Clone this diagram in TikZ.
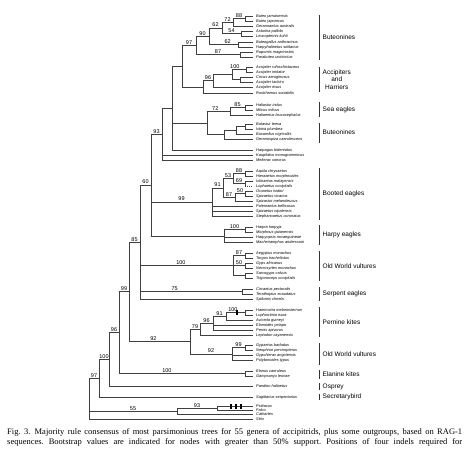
\documentclass[tikz,border=0pt]{standalone}
\usepackage{fontspec}
\setmainfont{Liberation Serif}
\setsansfont{Liberation Sans}
\tikzset{
  tree/.style={line width=0.6pt, draw=black!75},
  leaf/.style={anchor=west, inner sep=0pt, font=\fontsize{3.9}{4}\sffamily\itshape},
  bs/.style={above, inner sep=0.6pt, font=\fontsize{5.5}{6}\sffamily, pos=.75},
  clade/.style={anchor=west, inner sep=0pt, font=\fontsize{6.5}{7.5}\sffamily, align=center},
  bar/.style={line width=0.9pt, draw=black!80},
  indel/.style={fill=black, draw=none},
  caption/.style={anchor=west, inner sep=0pt, font=\fontsize{8.5}{9}\selectfont\frenchspacing}
}
\newcommand\lf[3]{\coordinate (#1) at (253,#2); \node[leaf] (t#1) at (256,#2) {#3};}
\newcommand\cl[4]{\draw[bar] (319,#2) -- (319,#3); \node[clade] (#1) at (322.5,{(#2+#3)/2}) {#4};}
\begin{document}
\begin{tikzpicture}[x=1pt,y=-1pt]
\useasboundingbox (0,0) rectangle (470,454);
% ---------------- leaves
\lf{Bj}{16}{Buteo jamaicensis}
\lf{Bjp}{21}{Buteo japonicus}
\lf{Ger}{26}{Geranoaetus australis}
\lf{Ast}{31}{Asturina pallida}
\lf{Leu}{36}{Leucopternis kuhli}
\lf{Bga}{42}{Buteogallus anthracinus}
\lf{Hps}{47}{Harpyhaliaetus solitarius}
\lf{Rup}{52}{Rupornis magnirostris}
\lf{Par}{57}{Parabuteo unicinctus}
\lf{Aru}{67}{Accipiter rufoschistaceus}
\lf{Aim}{72}{Accipiter imitator}
\lf{Cir}{77}{Circus aeruginosus}
\lf{Ata}{82}{Accipiter tachiro}
\lf{Ani}{87}{Accipiter nisus}
\lf{Ros}{93}{Rostrhamus sociabilis}
\lf{Hin}{105}{Haliastur indus}
\lf{Mil}{110}{Milvus milvus}
\lf{Hal}{115}{Haliaeetus leucocephalus}
\lf{But}{124}{Butastur teesa}
\lf{Ict}{129}{Ictinia plumbea}
\lf{Bus}{134}{Busarellus nigricollis}
\lf{Gca}{139}{Geranospiza caerulescens}
\lf{Hbi}{150}{Harpagus bidentatus}
\lf{Kau}{155}{Kaupifalco monogrammicus}
\lf{Mel}{160}{Melierax canorus}
\lf{Aqu}{171}{Aquila chrysaetos}
\lf{Hie}{176}{Hieraaetus morphnoides}
\lf{Icm}{181}{Ictinaetus malayensis}
\lf{Lop}{186}{Lophaetus occipitalis}
\lf{Oro}{191}{Oroaetus isidori}
\lf{Svi}{196}{Spizaetus vicarius}
\lf{Sme}{201}{Spizastur melanoleucus}
\lf{Pol}{206}{Polemaetus bellicosus}
\lf{Snp}{211}{Spizaetus nipalensis}
\lf{Ste}{216}{Stephanoaetus coronatus}
\lf{Har}{227}{Harpia harpyja}
\lf{Mor}{232}{Morphnus guianensis}
\lf{Hno}{237}{Harpyopsis novaeguineae}
\lf{Mac}{242}{Macheiramphus anderssoni}
\lf{Aeg}{253}{Aegypius monachus}
\lf{Tor}{258}{Torgos tracheliotus}
\lf{Gaf}{263}{Gyps africanus}
\lf{Nec}{268}{Necrosyrtes monachus}
\lf{Sar}{273}{Sarcogyps calvus}
\lf{Tri}{278}{Trigonoceps occipitalis}
\lf{Cpe}{289}{Circaetus pectoralis}
\lf{Tec}{294}{Terathopius ecaudatus}
\lf{Spi}{299}{Spilornis cheela}
\lf{Ham}{310}{Hamirostra melanosternon}
\lf{Lis}{315}{Lophoictinia isura}
\lf{Avi}{320}{Aviceda gurneyi}
\lf{Ela}{325}{Elanoides yetapa}
\lf{Per}{330}{Pernis apivorus}
\lf{Lep}{335}{Leptodon cayanensis}
\lf{Gba}{345}{Gypaetus barbatus}
\lf{Npe}{350}{Neophron percnopterus}
\lf{Gan}{355}{Gypohierax angolensis}
\lf{Pty}{360}{Polyboroides typus}
\lf{Eca}{371}{Elanus caeruleus}
\lf{Gle}{376}{Gampsonyx leonae}
\lf{Pha}{386}{Pandion haliaetus}
\lf{Sse}{397}{Sagittarius serpentarius}
\lf{Psi}{406}{Psittacus}
\lf{Fal}{410}{Falco}
\lf{Cat}{414}{Cathartes}
\lf{Str}{419}{Strix}
% ---------------- internal nodes
\coordinate (n88) at (245,18.5);
\coordinate (n72) at (233,22.3);
\coordinate (n54) at (241,33.5);
\coordinate (n62) at (222,27.9);
\coordinate (n62b) at (238,44.5);
\coordinate (n90) at (209,36.2);
\coordinate (n87) at (240,54.5);
\coordinate (n97a) at (196,45.4);
\coordinate (n100a) at (246,69.5);
\coordinate (nCT) at (240,79.5);
\coordinate (nAc) at (232,74.5);
\coordinate (n96a) at (213,80.8);
\coordinate (nAR) at (203,86.9);
\coordinate (nBA) at (182,66.1);
\coordinate (n85s) at (245,107.5);
\coordinate (n72s) at (230,111.3);
\coordinate (nBI) at (245,126.5);
\coordinate (nBIB) at (236,130.3);
\coordinate (nB2) at (224,134.6);
\coordinate (nSB) at (207,122.9);
\coordinate (nX) at (172,108.1);
\coordinate (n93) at (162,134);
\coordinate (n88b) at (245,173.5);
\coordinate (n69) at (245,183.5);
\coordinate (n53) at (233,178.5);
\coordinate (n50b) at (245,193.5);
\coordinate (n87b) at (235,197.3);
\coordinate (n91) at (223,187.9);
\coordinate (n99b) at (212,201.9);
\coordinate (n100h) at (245,229.5);
\coordinate (nH) at (224,235.8);
\coordinate (n60) at (151,184.9);
\coordinate (n87v) at (245,255.5);
\coordinate (n50v) at (245,265.5);
\coordinate (nST) at (245,275.5);
\coordinate (n100v) at (233,265.5);
\coordinate (n75) at (242,291.5);
\coordinate (n85) at (140,242);
\coordinate (n100p) at (245,312.5);
\coordinate (n91p) at (226,316.3);
\coordinate (n96p) at (213,323.1);
\coordinate (n79) at (200,329.1);
\coordinate (n99v) at (245,347.5);
\coordinate (n92v) at (232,353.8);
\coordinate (n92b) at (190,341.4);
\coordinate (n99) at (129,291.7);
\coordinate (nEl) at (245,373.5);
\coordinate (n96) at (119,332.6);
\coordinate (n100) at (109,359.3);
\coordinate (n97) at (99,378.2);
\coordinate (n93o) at (217,408);
\coordinate (n55) at (177,411);
\coordinate (root) at (89,398.5);
% ---------------- branches
\begin{scope}[tree]
\draw (n88) |- (Bj); \draw (n88) |- (Bjp);
\draw (n72) |- node[bs]{88} (n88); \draw (n72) |- (Ger);
\draw (n54) |- (Ast); \draw (n54) |- (Leu);
\draw (n62) |- node[bs]{72} (n72); \draw (n62) |- node[bs]{54} (n54);
\draw (n62b) |- (Bga); \draw (n62b) |- (Hps);
\draw (n90) |- node[bs]{62} (n62); \draw (n90) |- node[bs,pos=.82]{62} (n62b);
\draw (n87) |- (Rup); \draw (n87) |- (Par);
\draw (n97a) |- node[bs]{90} (n90); \draw (n97a) |- node[bs]{87} (n87);
\draw (n100a) |- (Aru); \draw (n100a) |- (Aim);
\draw (nCT) |- (Cir); \draw (nCT) |- (Ata);
\draw (nAc) |- node[bs,pos=.6]{100} (n100a); \draw (nAc) |- (nCT);
\draw (n96a) |- (nAc); \draw (n96a) |- (Ani);
\draw (nAR) |- node[bs]{96} (n96a); \draw (nAR) |- (Ros);
\draw (nBA) |- node[bs]{97} (n97a); \draw (nBA) |- (nAR);
\draw (n85s) |- (Hin); \draw (n85s) |- (Mil);
\draw (n72s) |- node[bs]{85} (n85s); \draw (n72s) |- (Hal);
\draw (nBI) |- (But); \draw (nBI) |- (Ict);
\draw (nBIB) |- (nBI); \draw (nBIB) |- (Bus);
\draw (nB2) |- (nBIB); \draw (nB2) |- (Gca);
\draw (nSB) |- node[bs,pos=.68]{72} (n72s); \draw (nSB) |- (nB2);
\draw (nX) |- (nBA); \draw (nX) |- (nSB); \draw (nX) |- (Hbi);
\draw (n93) |- (nX); \draw (n93) |- (Kau); \draw (n93) |- (Mel);
\draw (n88b) |- (Aqu); \draw (n88b) |- (Hie);
\draw (n69) |- (Icm); \draw (n69) -- (n69 |- Lop);
\draw[dashed, dash pattern=on 1pt off 1pt] (n69 |- Lop) -- (Lop);
\draw (n53) |- node[bs]{88} (n88b); \draw (n53) |- node[bs]{69} (n69);
\draw (n50b) |- (Oro); \draw (n50b) |- (Svi);
\draw (n87b) |- node[bs]{50} (n50b); \draw (n87b) |- (Sme);
\draw (n91) |- node[bs]{53} (n53); \draw (n91) |- node[bs]{87} (n87b);
\draw (n99b) |- node[bs]{91} (n91); \draw (n99b) |- (Pol); \draw (n99b) |- (Snp); \draw (n99b) |- (Ste);
\draw (n100h) |- (Har); \draw (n100h) |- (Mor);
\draw (nH) |- node[bs]{100} (n100h); \draw (nH) |- (Hno); \draw (nH) |- (Mac);
\draw (n60) |- node[bs]{93} (n93); \draw (n60) |- node[bs]{99} (n99b); \draw (n60) |- (nH);
\draw (n87v) |- (Aeg); \draw (n87v) |- (Tor);
\draw (n50v) |- (Gaf); \draw (n50v) |- (Nec);
\draw (nST) |- (Sar); \draw (nST) |- (Tri);
\draw (n100v) |- node[bs]{87} (n87v); \draw (n100v) |- node[bs]{50} (n50v); \draw (n100v) |- (nST);
\draw (n75) |- (Cpe); \draw (n75) |- (Tec);
\draw (n85) |- node[bs]{60} (n60); \draw (n85) |- node[bs,pos=.72]{100} (n100v);
\draw (n85) |- node[bs,pos=.67]{75} (n75); \draw (n85) |- (Spi);
\draw (n100p) |- (Ham); \draw (n100p) |- (Lis);
\draw (n91p) |- node[bs,pos=.68]{100} (n100p); \draw (n91p) |- (Avi);
\draw (n96p) |- node[bs]{91} (n91p); \draw (n96p) |- (Ela); \draw (n96p) |- (Per);
\draw (n79) |- node[bs]{96} (n96p); \draw (n79) |- (Lep);
\draw (n99v) |- (Gba); \draw (n99v) |- (Npe);
\draw (n92v) |- node[bs]{99} (n99v); \draw (n92v) |- (Gan); \draw (n92v) |- (Pty);
\draw (n92b) |- node[bs]{79} (n79); \draw (n92b) |- node[bs]{92} (n92v);
\draw (n99) |- node[bs]{85} (n85); \draw (n99) |- node[bs,pos=.7]{92} (n92b);
\draw (nEl) |- (Eca); \draw (nEl) |- (Gle);
\draw (n96) |- node[bs]{99} (n99); \draw (n96) |- node[bs,pos=.69]{100} (nEl);
\draw (n100) |- node[bs]{96} (n96); \draw (n100) |- (Pha);
\draw (n97) |- node[bs]{100} (n100); \draw (n97) |- (Sse);
\draw (n93o) |- (Psi); \draw (n93o) |- (Fal);
\draw (n55) |- node[bs]{93} (n93o); \draw (n55) |- (Cat);
\draw (root) |- node[bs]{97} (n97); \draw (root) |- node[bs]{55} (n55); \draw (root) |- (Str);
\end{scope}
% ---------------- indels
\fill[indel] (236.2,310) rectangle (238.2,315);
\fill[indel] (229.5,403.5) rectangle (231.5,408.5);
\fill[indel] (234.5,403.5) rectangle (236.5,408.5);
\fill[indel] (239.5,403.5) rectangle (241.5,408.5);
% ---------------- clade bars
\cl{c1}{15}{60}{Buteonines}
\cl{c2}{67}{92}{Accipiters\\and\\Harriers}
\cl{c3}{102}{117}{Sea eagles}
\draw[bar] (319,123) -- (319,143); \node[clade] (c4) at (322.5,132) {Buteonines};
\cl{c5}{168}{220}{Booted eagles}
\cl{c6}{225}{245}{Harpy eagles}
\cl{c7}{251}{281}{Old World vultures}
\cl{c8}{287}{301}{Serpent eagles}
\cl{c9}{307}{337}{Pernine kites}
\cl{c10}{343}{365}{Old World vultures}
\cl{c11}{370}{379}{Elanine kites}
\cl{c12}{383}{390}{Osprey}
\cl{c13}{394}{400}{Secretarybird}
% ---------------- caption
\node[caption] (cap1) at (7,432)
 {\makebox[455pt][s]{Fig. 3.\enspace Majority rule consensus of most parsimonious trees for 55 genera of accipitrids, plus some outgroups, based on RAG-1}};
\node[caption] (cap2) at (7,442)
 {\makebox[455pt][s]{sequences. Bootstrap values are indicated for nodes with greater than 50\% support. Positions of four indels required for}};
\end{tikzpicture}
\end{document}
